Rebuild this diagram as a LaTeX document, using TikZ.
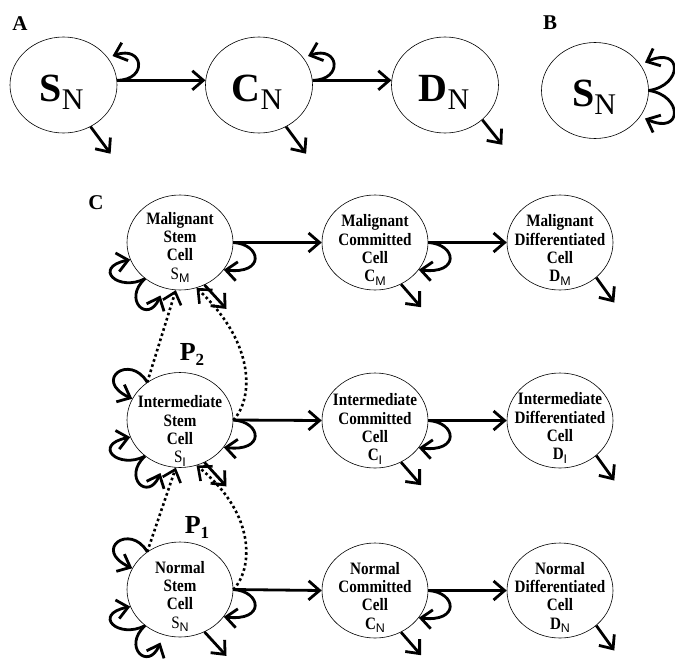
\documentclass[tikz,border=0pt]{standalone}
\usepackage{fontspec}
\setmainfont{Liberation Serif}
\setsansfont{Liberation Sans}
\newfontfamily\cellfont[FakeStretch=0.87]{Liberation Serif}
\usetikzlibrary{arrows.meta,shapes.geometric,calc}
\tikzset{
 cellA/.style={draw, ellipse, line width=0.6pt, minimum width=107pt, minimum height=96pt, inner sep=0pt},
 cellC/.style={draw, ellipse, line width=0.6pt, minimum width=106pt, minimum height=95pt, inner sep=0pt},
 arr/.style={line width=2.8pt, -{Straight Barb[length=11pt,width=19pt]}},
 dotarr/.style={line width=2.6pt, dash pattern=on 2.6pt off 2.8pt, -{Straight Barb[length=11pt,width=19pt]}},
 bigtxt/.style={inner sep=0pt, font=\fontsize{40}{40}\selectfont\bfseries},
 celltxt/.style={inner sep=0pt, align=center, font=\cellfont\fontsize{17.4}{18.4}\selectfont\bfseries},
 panel/.style={inner sep=0pt, font=\fontsize{21}{21}\selectfont\bfseries},
 plabel/.style={inner sep=0pt, font=\fontsize{26}{26}\selectfont\bfseries},
}
\newcommand{\bigsub}[1]{\raisebox{-8pt}{\fontsize{30}{30}\selectfont\mdseries #1}}
\newcommand{\csub}[1]{\raisebox{-3.5pt}{\fontsize{12.5}{12.5}\selectfont\sffamily\mdseries #1}}
\newcommand{\mystemloops}[2]{%
 \begin{scope}[shift={(#1.center)}]
  \draw[arr] (#1.east) .. controls (82,2) and (85,32) .. (#1.-32);
  \draw[arr] (#1.226) .. controls (-62,50) and (-88,25) .. (#1.199);
  \draw[arr] (#1.226) .. controls (-58,57) and (-32,82) .. (-19.5,53);
  \ifnum#2=1 \draw[arr] (#1.131) .. controls (-50,-67) and (-88,-40) .. (#1.156);\fi
 \end{scope}
 \draw[arr] (#1.-60) -- ++(22,24);}
\newcommand{\mycomloops}[1]{%
 \begin{scope}[shift={(#1.center)}]
  \draw[arr] (#1.east) .. controls (82,2) and (85,32) .. (#1.-32);
 \end{scope}
 \draw[arr] (#1.-58) -- ++(20,23);}
\begin{document}
\begin{tikzpicture}[x=1pt,y=-1pt]
\path[fill=white,use as bounding box] (0,0) rectangle (675,662);

% Panel A
\node[panel] (la) at (20,24) {A};
\node[cellA] (sn) at (63.5,85) {};
\node[cellA] (cn) at (259,85) {};
\node[cellA] (dn) at (445,85) {};
\node[bigtxt] (snt) at (61.5,92.5) {S\bigsub{N}};
\node[bigtxt] (cnt) at (257,92.5) {C\bigsub{N}};
\node[bigtxt] (dnt) at (444,92.5) {D\bigsub{N}};
\draw[arr] (sn.5) -- (cn.175);
\draw[arr] (cn.5) -- (dn.175);
\begin{scope}[shift={(sn.center)}]
 \draw[arr] (sn.5) .. controls (85,-5) and (80,-40) .. (49,-29);
\end{scope}
\begin{scope}[shift={(cn.center)}]
 \draw[arr] (cn.5) .. controls (85,-5) and (80,-40) .. (49,-29);
\end{scope}
\draw[arr] (sn.-57) -- ++(20,27);
\draw[arr] (cn.-57) -- ++(20,27);
\draw[arr] (dn.-43) -- ++(20,25);

% Panel B
\node[panel] (lb) at (550,23) {B};
\node[cellA] (bsn) at (595,90.5) {};
\node[bigtxt] (bsnt) at (594,97.5) {S\bigsub{N}};
\begin{scope}[shift={(bsn.center)}]
 \draw[arr] (bsn.east) .. controls (88,-5) and (88,-45) .. (50,-28);
 \draw[arr] (bsn.east) .. controls (88,5) and (88,45) .. (50,28);
\end{scope}

% Panel C
\node[panel] (lc) at (96,203) {C};
\node[cellC] (ms) at (180,242.5) {};
\node[cellC] (mc) at (375,242.5) {};
\node[cellC] (md) at (560,242.5) {};
\node[cellC] (is) at (180,420) {};
\node[cellC] (ic) at (375,420.5) {};
\node[cellC] (id) at (560,420.5) {};
\node[cellC] (ns) at (180,589.5) {};
\node[cellC] (nc) at (375,590.5) {};
\node[cellC] (nd) at (560,590.5) {};

\node[celltxt] (mst) at (180,247.5) {Malignant\\Stem\\Cell\\{\mdseries S}\csub{M}};
\node[celltxt] (mct) at (375,250) {Malignant\\Committed\\Cell\\C\csub{M}};
\node[celltxt] (mdt) at (560,250) {Malignant\\Differentiated\\Cell\\D\csub{M}};
\node[celltxt] (ist) at (180,431) {Intermediate\\Stem\\Cell\\{\mdseries S}\csub{I}};
\node[celltxt] (ict) at (375,429) {Intermediate\\Committed\\Cell\\C\csub{I}};
\node[celltxt] (idt) at (560,428) {Intermediate\\Differentiated\\Cell\\D\csub{I}};
\node[celltxt] (nst) at (180,596.5) {Normal\\Stem\\Cell\\{\mdseries S}\csub{N}};
\node[celltxt] (nct) at (375,597.5) {Normal\\Committed\\Cell\\C\csub{N}};
\node[celltxt] (ndt) at (560,597.5) {Normal\\Differentiated\\Cell\\D\csub{N}};

\draw[arr] (ms.east) -- (mc.west);
\draw[arr] (mc.east) -- (md.west);
\draw[arr] (is.east) -- (ic.west);
\draw[arr] (ic.east) -- (id.west);
\draw[arr] (ns.east) -- (nc.west);
\draw[arr] (nc.east) -- (nd.west);

\mystemloops{ms}{0}
\mystemloops{is}{1}
\mystemloops{ns}{1}
\mycomloops{mc}
\mycomloops{ic}
\mycomloops{nc}
\draw[arr] (md.-44) -- ++(18,25);
\draw[arr] (id.-44) -- ++(18,25);
\draw[arr] (nd.-44) -- ++(18,25);

% transitions
\draw[dotarr] (is.131) -- (ms.265);
\draw[dotarr] (ns.131) -- (is.265);
\begin{scope}[shift={(is.center)}]
 \draw[dotarr] (is.east) .. controls (72,-19) and (78,-74) .. (ms.290);
\end{scope}
\begin{scope}[shift={(ns.center)}]
 \draw[dotarr] (ns.east) .. controls (72,-19) and (78,-74) .. (is.290);
\end{scope}
\node[plabel] (p2) at (192,354) {P\raisebox{-5pt}{\fontsize{17}{17}\selectfont 2}};
\node[plabel] (p1) at (197,527) {P\raisebox{-5pt}{\fontsize{17}{17}\selectfont 1}};
\end{tikzpicture}
\end{document}
